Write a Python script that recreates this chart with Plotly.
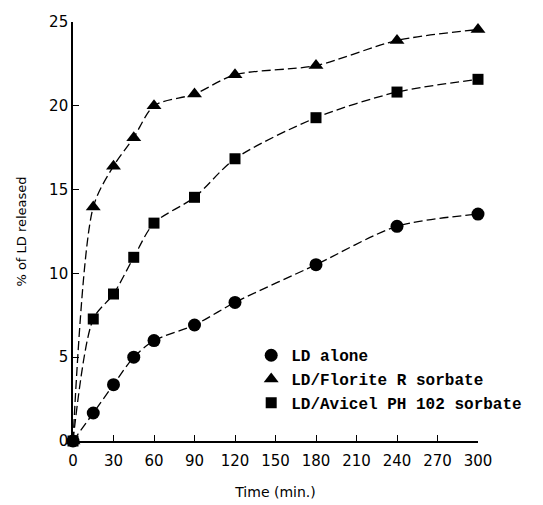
import plotly.graph_objects as go

time_min = [0, 15, 30, 45, 60, 90, 120, 180, 240, 300]
ld_alone = [0, 1.67, 3.36, 5.0, 5.99, 6.92, 8.27, 10.52, 12.81, 13.54]
ld_florite = [0, 13.96, 16.4, 18.1, 20.0, 20.7, 21.85, 22.4, 23.9, 24.55]
ld_avicel = [0, 7.28, 8.77, 10.96, 13.0, 14.54, 16.84, 19.29, 20.82, 21.58]

x_ticks = [0, 30, 60, 90, 120, 150, 180, 210, 240, 270, 300]
y_ticks = [0, 5, 10, 15, 20, 25]

series = [
    ("LD alone", ld_alone, "circle", 13),
    ("LD/Florite R sorbate", ld_florite, "triangle-up", 13),
    ("LD/Avicel PH 102 sorbate", ld_avicel, "square", 11),
]

fig = go.Figure()
for name, vals, sym, size in series:
    fig.add_trace(go.Scatter(
        x=time_min, y=vals, mode="lines", showlegend=False, hoverinfo="skip",
        line=dict(color="black", width=1.3, dash="9px,4px", shape="spline", smoothing=0.8),
        cliponaxis=False,
    ))
for name, vals, sym, size in series:
    fig.add_trace(go.Scatter(
        x=time_min, y=vals, name=name, mode="markers",
        marker=dict(symbol=sym, size=size, color="black"),
        cliponaxis=False,
    ))

fig.update_layout(
    width=543, height=505,
    margin=dict(l=73, r=65, t=22, b=64, autoexpand=False),
    paper_bgcolor="white", plot_bgcolor="white",
    font=dict(family="DejaVu Sans", color="black", size=13),
    legend=dict(
        x=0.44, y=0.245, xanchor="left", yanchor="top",
        bgcolor="rgba(0,0,0,0)", tracegroupgap=0, itemwidth=30,
        font=dict(family="Liberation Mono", size=16, weight="bold"),
    ),
    showlegend=True,
)
fig.update_xaxes(
    range=[0, 300], tickvals=x_ticks, ticks="inside", ticklen=6, tickwidth=1.2,
    tickcolor="black", showline=True, linecolor="black", linewidth=1.6,
    showgrid=False, zeroline=False, ticklabelstandoff=5,
    tickfont=dict(size=15), title=dict(text="Time (min.)", font=dict(size=14), standoff=18),
)
fig.update_yaxes(
    range=[0, 25], tickvals=y_ticks, ticks="inside", ticklen=6, tickwidth=1.2,
    tickcolor="black", showline=True, linecolor="black", linewidth=1.6,
    showgrid=False, zeroline=False,
    tickfont=dict(size=15), title=dict(text="% of LD released", font=dict(size=13), standoff=20),
)

fig.write_html("out.html")
